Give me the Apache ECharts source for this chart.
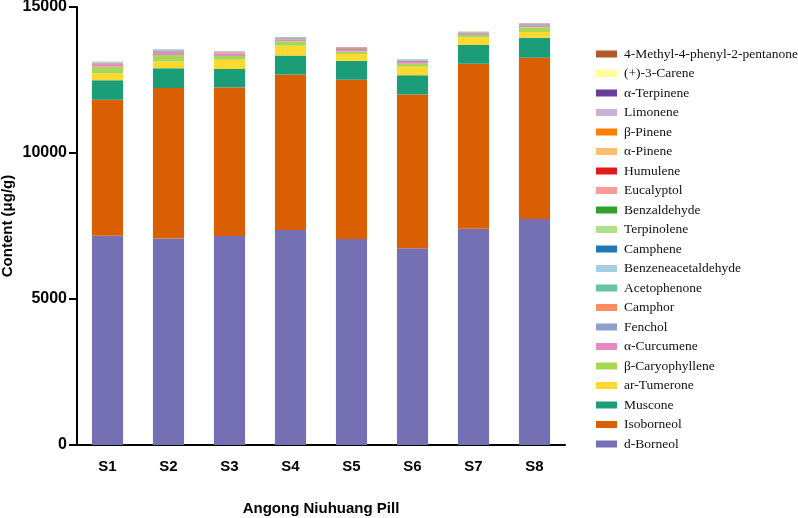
<!DOCTYPE html>
<html>
<head>
<meta charset="utf-8">
<script src="https://cdn.jsdelivr.net/npm/echarts@6/dist/echarts.min.js"></script>
<style>html,body{margin:0;padding:0;background:#fff}#c{width:798px;height:518px}</style>
</head>
<body>
<div id="c"></div>
<script>
var categories = ['S1','S2','S3','S4','S5','S6','S7','S8'];
var yTicks = [0, 5000, 10000, 15000];

// series listed bottom -> top of the stack
var seriesNames = ['d-Borneol','Isoborneol','Muscone','ar-Tumerone','\u03b2-Caryophyllene','\u03b1-Curcumene','Fenchol','Camphor','Acetophenone','Benzeneacetaldehyde','Camphene','Terpinolene','Benzaldehyde','Eucalyptol','Humulene','\u03b1-Pinene','\u03b2-Pinene','Limonene','\u03b1-Terpinene','(+)-3-Carene','4-Methyl-4-phenyl-2-pentanone'];
var seriesColors = ['#7570b3','#d95f02','#1b9e77','#ffd92f','#a6d854','#e78ac3','#8da0cb','#fc8d62','#66c2a5','#a6cee3','#1f78b4','#b2df8a','#33a02c','#fb9a99','#e31a1c','#fdbf6f','#ff7f00','#cab2d6','#6a3d9a','#ffff99','#b15928'];

var dBorneol        = [7170, 7070, 7160, 7365, 7055, 6740, 7410, 7740];
var isoborneol      = [4650, 5160, 5080, 5320, 5455, 5260, 5650, 5525];
var muscone         = [675, 675, 640, 650, 650, 665, 640, 685];
var arTumerone      = [225, 225, 310, 340, 230, 285, 255, 195];
var bCaryophyllene  = [230, 230, 135, 150, 90, 105, 90, 160];
var aCurcumene      = [95, 105, 90, 65, 50, 60, 40, 50];
var fenchol         = [30, 25, 20, 40, 35, 45, 35, 30];
var camphor         = [12, 10, 12, 15, 30, 15, 15, 15];
var acetophenone    = [15, 12, 10, 12, 10, 12, 8, 10];
var benzeneacetald  = [5, 4, 4, 5, 4, 5, 3, 3];
var camphene        = [4, 3, 3, 3, 3, 3, 2, 2];
var terpinolene     = [4, 3, 2, 2, 2, 2, 2, 2];
var benzaldehyde    = [3, 2, 2, 2, 2, 2, 2, 2];
var eucalyptol      = [3, 2, 1, 1, 6, 1, 2, 4];
var humulene        = [2, 1, 1, 1, 4, 1, 1, 2];
var aPinene         = [2, 1, 1, 1, 1, 1, 2, 2];
var bPinene         = [2, 1, 1, 1, 1, 0, 1, 1];
var limonene        = [3, 2, 1, 1, 1, 1, 8, 8];
var aTerpinene      = [1, 1, 0, 0, 0, 0, 1, 1];
var carene          = [1, 0, 0, 0, 0, 0, 1, 2];
var methylPhenylPentanone = [0, 0, 0, 0, 0, 0, 3, 3];

var seriesValues = [dBorneol, isoborneol, muscone, arTumerone, bCaryophyllene, aCurcumene, fenchol, camphor, acetophenone, benzeneacetald, camphene, terpinolene, benzaldehyde, eucalyptol, humulene, aPinene, bPinene, limonene, aTerpinene, carene, methylPhenylPentanone];

var series = seriesNames.map(function(n, i){
  return {
    name: n, type: 'bar', stack: 'total', barWidth: '51%',
    itemStyle: {color: seriesColors[i]},
    data: seriesValues[i]
  };
});

var chart = echarts.init(document.getElementById('c'), null, {renderer: 'canvas'});
chart.setOption({
  animation: false,
  backgroundColor: '#ffffff',
  grid: {left: 77, right: 233, top: 7, bottom: 73, containLabel: false, outerBoundsMode: 'none'},
  legend: {
    orient: 'vertical', left: 591, top: 42,
    data: seriesNames.slice().reverse(),
    icon: 'rect', itemWidth: 21, itemHeight: 7, itemGap: 5.5,
    textStyle: {fontFamily: 'Liberation Serif', fontSize: 13.5, color: '#111', lineHeight: 14, padding: [0,0,0,2]},
    selectedMode: false
  },
  xAxis: {
    type: 'category', data: categories,
    axisLine: {lineStyle: {color: '#000', width: 2}},
    axisTick: {alignWithLabel: true, length: 7, lineStyle: {color: '#000', width: 2}},
    axisLabel: {fontFamily: 'Liberation Sans', fontWeight: 'bold', fontSize: 15, color: '#000', margin: 14},
    name: 'Angong Niuhuang Pill', nameLocation: 'middle', nameGap: 56, nameMoveOverlap: false,
    nameTextStyle: {fontFamily: 'Liberation Sans', fontWeight: 'bold', fontSize: 15, color: '#000'}
  },
  yAxis: {
    type: 'value', min: yTicks[0], max: yTicks[yTicks.length-1], interval: yTicks[1]-yTicks[0],
    splitLine: {show: false},
    axisLine: {show: true, lineStyle: {color: '#000', width: 2}},
    axisTick: {show: true, length: 8, lineStyle: {color: '#000', width: 2}},
    axisLabel: {fontFamily: 'Liberation Sans', fontWeight: 'bold', fontSize: 16, color: '#000', margin: 10,
      formatter: function(v){ return String(v); }},
    name: 'Content (\u03bcg/g)', nameLocation: 'middle', nameGap: 62, nameMoveOverlap: false,
    nameTextStyle: {fontFamily: 'Liberation Sans', fontWeight: 'bold', fontSize: 15, color: '#000'}
  },
  series: series
});
</script>
</body>
</html>
